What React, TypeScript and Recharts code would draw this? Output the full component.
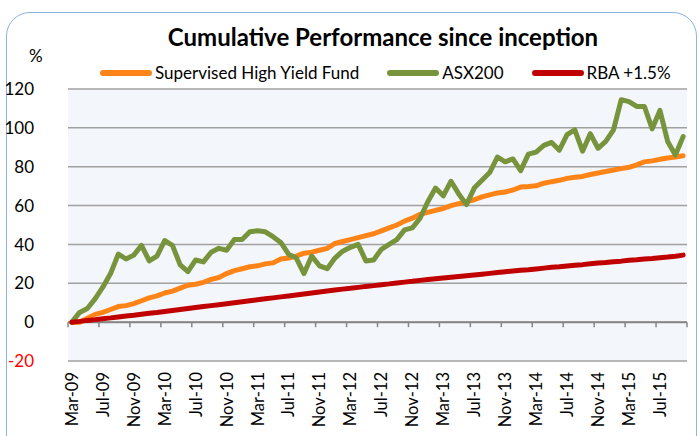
import React from 'react';
import { LineChart, Line, XAxis, YAxis, CartesianGrid, ReferenceLine } from 'recharts';

// month categories, Mar-09 .. Oct-15
const monthNames = ['Jan', 'Feb', 'Mar', 'Apr', 'May', 'Jun', 'Jul', 'Aug', 'Sep', 'Oct', 'Nov', 'Dec'];
const months: string[] = [];
for (let k = 2; k < 82; k++) {
  months.push(`${monthNames[k % 12]}-${String(9 + Math.floor(k / 12)).padStart(2, '0')}`);
}

const fund = [
  0, 0, 2, 4, 5, 6.5, 8, 8.5, 9.5, 11,
  12.5, 13.5, 15, 16, 17.5, 19, 19.5, 20.5, 22, 23,
  25, 26.5, 27.5, 28.5, 29, 30, 30.5, 32.5, 33, 34,
  35.5, 36, 37, 38, 40.5, 41.5, 42.5, 43.5, 44.5, 45.5,
  47, 48.5, 50, 52, 53.5, 55.5, 56.5, 57.5, 58.5, 60,
  61, 62, 63, 64.5, 65.5, 66.5, 67, 68, 69.5, 69.8,
  70.2, 71.5, 72.3, 73, 74, 74.6, 75, 76, 76.8, 77.5,
  78.3, 79, 79.7, 81, 82.5, 83, 83.8, 84.5, 85, 85.6,
];

const asx200 = [
  0, 5, 7, 12, 18, 25, 35, 32.5, 34.5, 39.5,
  31.5, 34, 42, 39.5, 29.5, 26, 32, 31, 36, 38,
  37, 42.5, 42.5, 46.5, 47, 46.5, 44, 41, 35, 33,
  25, 34, 29, 27.5, 33, 36.5, 38.5, 40, 31.5, 32,
  37.5, 40, 42.5, 47.5, 48.5, 53.5, 62, 69, 65, 72.5,
  66, 60.5, 69, 73, 77, 85, 82.5, 84, 78, 86.5,
  87.5, 91, 92.5, 88.5, 96.5, 99, 88, 97, 89.5, 93,
  99, 114.5, 113.5, 111, 111, 99.5, 109, 93, 86, 95.5,
];

const rba = [
  0, 0.4, 0.9, 1.3, 1.8, 2.2, 2.7, 3.2, 3.6, 4.1,
  4.6, 5.0, 5.5, 6.0, 6.5, 7.0, 7.5, 8.0, 8.5, 9.0,
  9.5, 10.0, 10.5, 11.0, 11.5, 12.0, 12.5, 13.0, 13.5, 14.0,
  14.5, 15.0, 15.5, 16.0, 16.5, 17.0, 17.4, 17.9, 18.4, 18.8,
  19.3, 19.7, 20.2, 20.6, 21.0, 21.5, 21.9, 22.3, 22.7, 23.1,
  23.5, 23.9, 24.3, 24.7, 25.1, 25.5, 25.9, 26.3, 26.7, 27.0,
  27.4, 27.8, 28.2, 28.5, 28.9, 29.3, 29.6, 30.0, 30.4, 30.7,
  31.1, 31.4, 31.8, 32.1, 32.5, 32.8, 33.2, 33.5, 33.9, 34.5,
];

const yTicks = [-20, 0, 20, 40, 60, 80, 100, 120];

const series = [
  { key: 'fund', name: 'Supervised High Yield Fund', color: '#FF8417' },
  { key: 'asx', name: 'ASX200', color: '#77933C' },
  { key: 'rba', name: 'RBA +1.5%', color: '#C00000' },
];

const data = months.map((month, i) => ({ month, fund: fund[i], asx: asx200[i], rba: rba[i] }));

const font = 'Lato, "Open Sans", sans-serif';

const MonthTick = (props: any) => {
  const { x, y, payload, index } = props;
  if (index % 4 !== 0) return <g />;
  return (
    <text
      x={x}
      y={y}
      transform={`rotate(-90, ${x}, ${y})`}
      textAnchor="end"
      dy="0.36em"
      fontSize={16.5}
      fontFamily={font}
      fill="#000"
    >
      {payload.value}
    </text>
  );
};

const ValueTick = (props: any) => {
  const { x, y, payload } = props;
  return (
    <text x={x - 13} y={y} textAnchor="end" dy="0.36em" fontSize={17} fontFamily={font} fill={payload.value < 0 ? '#FF0000' : '#000'}>
      {payload.value}
    </text>
  );
};

// zero line acts as the category axis, with a tick every 4 months
const ZeroAxis = (props: any) => {
  const { x1, x2, y1 } = props;
  const marks = [];
  for (let k = 0; k <= 20; k++) {
    const x = x1 + ((x2 - x1) * k) / 20;
    marks.push(<line key={k} x1={x} x2={x} y1={y1} y2={y1 + 5} stroke="#868686" strokeWidth={1.5} />);
  }
  return (
    <g>
      <line x1={x1} x2={x2} y1={y1} y2={y1} stroke="#868686" strokeWidth={2} />
      {marks}
    </g>
  );
};

const App = () => {
  return (
    <div style={{ position: 'fixed', left: 0, top: 0, width: 700, height: 436, overflow: 'hidden', background: '#fff', fontFamily: font }}>
      <div
        style={{
          position: 'absolute',
          left: 6,
          top: 12,
          width: 689,
          height: 470,
          border: '1.5px solid #8DB3E2',
          borderRadius: 24,
        }}
      />
      <div style={{ position: 'absolute', left: 83, width: 600, top: 22, textAlign: 'center', fontSize: 24, fontWeight: 700, lineHeight: '30px' }}>
        Cumulative Performance since inception
      </div>
      <div style={{ position: 'absolute', left: 29, top: 46, fontSize: 17, lineHeight: '20px' }}>%</div>
      <div style={{ position: 'absolute', left: 100, top: 63, display: 'flex', gap: 28, fontSize: 17, lineHeight: '20px' }}>
        {series.map((s) => (
          <div key={s.key} style={{ display: 'flex', alignItems: 'center' }}>
            <div style={{ width: 52, height: 6, borderRadius: 3, background: s.color, marginRight: 3 }} />
            <span>{s.name}</span>
          </div>
        ))}
      </div>
      <div style={{ position: 'absolute', left: 0, top: 0 }}>
        <LineChart width={700} height={436} data={data} margin={{ top: 89, right: 13, bottom: 0, left: 23 }}>
          <CartesianGrid vertical={false} fill="#F3F6FA" stroke="#A0A0A0" strokeWidth={1.5} />
          <XAxis
            dataKey="month"
            interval={0}
            height={75}
            padding={{ left: 3.87, right: 3.87 }}
            axisLine={false}
            tickLine={false}
            tickSize={0}
            tickMargin={11}
            tick={<MonthTick />}
          />
          <YAxis
            domain={[-20, 120]}
            ticks={yTicks}
            width={45}
            axisLine={false}
            tickLine={false}
            tickSize={0}
            tickMargin={21}
            tick={<ValueTick />}
          />
          <ReferenceLine y={0} shape={<ZeroAxis />} />
          {series.map((s) => (
            <Line
              key={s.key}
              dataKey={s.key}
              name={s.name}
              stroke={s.color}
              strokeWidth={5}
              strokeLinecap="round"
              strokeLinejoin="round"
              dot={false}
              isAnimationActive={false}
            />
          ))}
        </LineChart>
      </div>
    </div>
  );
};

export default App;
